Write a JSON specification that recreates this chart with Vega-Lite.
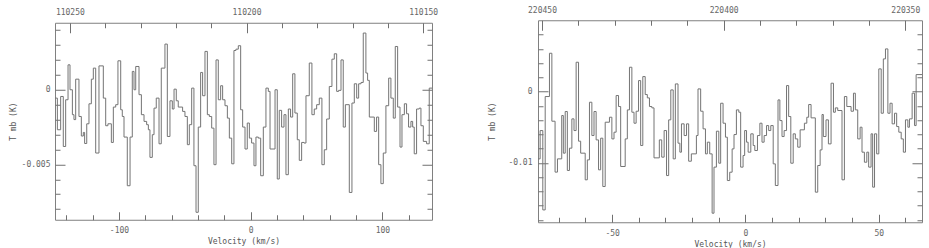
{
  "$schema": "https://vega.github.io/schema/vega-lite/v6.json",
  "padding": {"left": 8, "top": -2, "right": 4, "bottom": 0},
  "spacing": 49,
  "center": true,
  "config": {
    "view": {"stroke": "#808080", "strokeWidth": 1},
    "axis": {"labelFont": "DejaVu Sans Mono", "labelFontSize": 8, "labelColor": "#666666", "titleFont": "DejaVu Sans Mono", "titleFontSize": 8, "titleFontWeight": "normal", "titleColor": "#555555", "domain": false, "grid": false, "tickColor": "#707070", "labelFlush": false, "labelOverlap": false}
  },
  "hconcat": [
    {
      "width": 377, "height": 197,
      "layer": [
        {
          "data": {"values": [
            {"v": -148.6, "T": -0.00056}, {"v": -146.8, "T": -0.00268}, {"v": -144.3, "T": -0.00045}, {"v": -142.3, "T": -0.0038}, {"v": -140.5, "T": -0.00067}, {"v": -138.7, "T": 0.00167}, {"v": -137.2, "T": 0.0}, {"v": -135.4, "T": -0.00167}, {"v": -134.2, "T": -0.002}, {"v": -132.9, "T": 0.00071}, {"v": -130.4, "T": -0.00179}, {"v": -128.6, "T": -0.0031}, {"v": -127.1, "T": -0.00286}, {"v": -126.1, "T": -0.0036}, {"v": -124.5, "T": -0.00228}, {"v": -122.8, "T": -0.00094}, {"v": -121.0, "T": 0.00071}, {"v": -119.5, "T": 0.00145}, {"v": -117.7, "T": -0.00424}, {"v": -115.2, "T": 0.0016}, {"v": -111.9, "T": -0.00056}, {"v": -110.1, "T": -0.00241}, {"v": -108.4, "T": -0.00228}, {"v": -105.8, "T": -0.00353}, {"v": -104.3, "T": -0.00116}, {"v": -102.5, "T": -0.001}, {"v": -100.8, "T": 0.00194}, {"v": -98.7, "T": -0.00134}, {"v": -97.5, "T": -0.00179}, {"v": -96.2, "T": -0.00317}, {"v": -93.7, "T": -0.00643}, {"v": -91.6, "T": -0.00317}, {"v": -89.9, "T": 0.00123}, {"v": -88.6, "T": 0.0}, {"v": -87.3, "T": 0.00156}, {"v": -84.8, "T": -0.00033}, {"v": -83.0, "T": -0.00167}, {"v": -81.0, "T": -0.00212}, {"v": -79.0, "T": -0.00234}, {"v": -77.7, "T": -0.00268}, {"v": -76.5, "T": -0.00453}, {"v": -74.7, "T": -0.00301}, {"v": -73.4, "T": -0.00123}, {"v": -71.7, "T": -0.00056}, {"v": -69.6, "T": -0.00362}, {"v": -67.9, "T": 0.00145}, {"v": -65.1, "T": 0.00306}, {"v": -63.3, "T": -0.00313}, {"v": -61.3, "T": -0.00074}, {"v": -59.5, "T": -0.00129}, {"v": -58.2, "T": 0.00004}, {"v": -56.5, "T": -0.00074}, {"v": -55.0, "T": -0.00116},
            {"v": -51.7, "T": -0.00145}, {"v": -49.9, "T": -0.00179}, {"v": -48.1, "T": -0.00368}, {"v": -46.6, "T": -0.00234}, {"v": -44.8, "T": 0.00011}, {"v": -43.1, "T": -0.00509}, {"v": -41.5, "T": -0.00821}, {"v": -39.8, "T": -0.0025}, {"v": -38.0, "T": 0.00116}, {"v": -36.5, "T": -0.0004}, {"v": -34.7, "T": 0.00257}, {"v": -32.9, "T": -0.00167}, {"v": -31.4, "T": -0.00179}, {"v": -29.6, "T": -0.00257}, {"v": -27.9, "T": -0.00502}, {"v": -26.3, "T": 0.002}, {"v": -24.6, "T": -0.00067}, {"v": -22.8, "T": 0.00027}, {"v": -21.3, "T": -0.00067}, {"v": -19.5, "T": -0.00107}, {"v": -17.7, "T": -0.0019}, {"v": -16.2, "T": -0.00324}, {"v": -14.4, "T": -0.00496}, {"v": -12.7, "T": 0.00263}, {"v": -11.2, "T": 0.00272}, {"v": -9.4, "T": 0.00295}, {"v": -7.6, "T": -0.00134}, {"v": -6.1, "T": -0.0025}, {"v": -4.3, "T": -0.00397}, {"v": -2.6, "T": -0.00223}, {"v": -1.0, "T": -0.00324}, {"v": 0.7, "T": -0.00357}, {"v": 2.5, "T": -0.00509}, {"v": 4.0, "T": -0.00317}, {"v": 5.8, "T": -0.00324}, {"v": 7.6, "T": -0.00576}, {"v": 9.6, "T": -0.0025}, {"v": 11.6, "T": 0.00011}, {"v": 13.4, "T": -0.00011}, {"v": 14.7, "T": -0.00397}, {"v": 18.5, "T": 0.0}, {"v": 20.2, "T": -0.00598}, {"v": 21.7, "T": -0.00138}, {"v": 23.5, "T": -0.0025}, {"v": 25.3, "T": -0.00167}, {"v": 26.8, "T": -0.00569}, {"v": 28.6, "T": -0.00129}, {"v": 30.3, "T": -0.00183}, {"v": 31.9, "T": 0.00107}, {"v": 33.6, "T": -0.00156}, {"v": 35.4, "T": -0.00335}, {"v": 36.9, "T": -0.00473}, {"v": 38.7, "T": -0.00353}, {"v": 40.5, "T": -0.00357}, {"v": 42.0, "T": -0.0004},
            {"v": 44.5, "T": 0.00179}, {"v": 46.5, "T": -0.00167}, {"v": 48.3, "T": -0.00129}, {"v": 50.1, "T": -0.001}, {"v": 52.1, "T": -0.00056}, {"v": 54.1, "T": -0.00502}, {"v": 55.9, "T": -0.00402}, {"v": 57.7, "T": -0.00196}, {"v": 59.7, "T": 0.00022}, {"v": 61.7, "T": 0.00205}, {"v": 63.5, "T": 0.00241}, {"v": 65.3, "T": -0.00011}, {"v": 66.8, "T": -0.00004}, {"v": 68.6, "T": 0.002}, {"v": 70.3, "T": -0.0025}, {"v": 71.9, "T": -0.001}, {"v": 74.9, "T": -0.00688}, {"v": 76.9, "T": -0.00089}, {"v": 78.7, "T": 0.0004}, {"v": 80.5, "T": -0.00056}, {"v": 82.0, "T": 0.0004}, {"v": 83.8, "T": 0.00049}, {"v": 85.5, "T": 0.0038}, {"v": 87.5, "T": 0.00112}, {"v": 88.8, "T": 0.00063}, {"v": 90.1, "T": -0.00183}, {"v": 93.9, "T": -0.00279}, {"v": 95.6, "T": -0.00183}, {"v": 97.2, "T": -0.00502}, {"v": 98.9, "T": -0.00629}, {"v": 100.7, "T": -0.00424}, {"v": 102.7, "T": -0.00107}, {"v": 104.8, "T": 0.00078}, {"v": 106.5, "T": -0.00056}, {"v": 108.3, "T": -0.0019}, {"v": 109.8, "T": 0.0029}, {"v": 111.6, "T": -0.00116}, {"v": 113.4, "T": -0.00384}, {"v": 114.9, "T": -0.00167}, {"v": 116.7, "T": -0.00094}, {"v": 118.4, "T": -0.00161}, {"v": 119.9, "T": -0.0025}, {"v": 121.7, "T": -0.00212}, {"v": 123.0, "T": -0.0025}, {"v": 124.2, "T": -0.00429}, {"v": 126.0, "T": -0.00129}, {"v": 128.0, "T": -0.00123}, {"v": 129.3, "T": -0.00241}, {"v": 131.1, "T": -0.00346}, {"v": 133.6, "T": -0.00362}, {"v": 135.6, "T": 0.00011}, {"v": 137.7, "T": 0.00011}
          ]},
          "mark": {"type": "line", "interpolate": "step-after", "color": "#747474", "strokeWidth": 1, "clip": true},
          "encoding": {
            "x": {"field": "v", "type": "quantitative", "scale": {"domain": [-148.6, 137.7], "nice": false, "zero": false},
              "axis": {"orient": "bottom", "title": "Velocity (km/s)", "values": [-140, -120, -100, -80, -60, -40, -20, 0, 20, 40, 60, 80, 100, 120], "labelExpr": "datum.value == -100 ? '-100' : datum.value == 0 ? '0' : datum.value == 100 ? '100' : ''", "tickSize": {"condition": {"test": "datum.value % 100 == 0", "value": -8}, "value": -5}, "labelPadding": 15, "titlePadding": 0}},
            "y": {"field": "T", "type": "quantitative", "scale": {"domain": [-0.00871, 0.00449], "nice": false, "zero": false},
              "axis": {"orient": "left", "title": "T mb (K)", "values": [0.004, 0.003, 0.002, 0.001, 0, -0.001, -0.002, -0.003, -0.004, -0.005, -0.006, -0.007, -0.008], "labelExpr": "datum.value == 0 ? '0' : datum.value == -0.005 ? '-0.005' : ''", "tickSize": {"condition": {"test": "datum.value == 0 || datum.value == -0.005", "value": -10}, "value": -5}, "labelPadding": 15, "titlePadding": 4}}
          }
        },
        {
          "data": {"values": [{"f": 110200, "T": 0}]},
          "mark": {"type": "point", "opacity": 0},
          "encoding": {
            "x": {"field": "f", "type": "quantitative", "scale": {"domain": [110147.5, 110254.2], "reverse": true, "nice": false, "zero": false},
              "axis": {"orient": "top", "title": " ", "titleFontSize": 5, "titlePadding": 0, "values": [110150, 110160, 110170, 110180, 110190, 110200, 110210, 110220, 110230, 110240, 110250], "labelExpr": "datum.value % 50 == 0 ? format(datum.value, 'd') : ''", "tickSize": {"condition": {"test": "datum.value % 50 == 0", "value": -10}, "value": -5}, "labelPadding": 16}},
            "y": {"field": "T", "type": "quantitative", "scale": {"domain": [-0.00871, 0.00449], "nice": false, "zero": false},
              "axis": {"orient": "right", "title": null, "labels": false, "values": [0.004, 0.003, 0.002, 0.001, 0, -0.001, -0.002, -0.003, -0.004, -0.005, -0.006, -0.007, -0.008], "tickSize": {"condition": {"test": "datum.value == 0 || datum.value == -0.005", "value": -10}, "value": -5}}}
          }
        }
      ],
      "resolve": {"scale": {"x": "independent", "y": "independent"}, "axis": {"x": "independent", "y": "independent"}}
    },
    {
      "width": 384, "height": 202,
      "layer": [
        {
          "data": {"values": [
            {"v": -77.8, "T": -0.00944}, {"v": -77.0, "T": -0.00547}, {"v": -76.0, "T": -0.0166}, {"v": -75.1, "T": -0.0007}, {"v": -73.5, "T": 0.00537}, {"v": -72.6, "T": -0.00416}, {"v": -71.4, "T": -0.0113}, {"v": -70.5, "T": -0.00944}, {"v": -68.9, "T": -0.00336}, {"v": -68.3, "T": -0.00864}, {"v": -67.6, "T": -0.0028}, {"v": -66.8, "T": -0.01107}, {"v": -66.0, "T": -0.00794}, {"v": -65.1, "T": -0.00383}, {"v": -64.3, "T": -0.00547}, {"v": -63.5, "T": 0.00411}, {"v": -62.6, "T": -0.00696}, {"v": -61.8, "T": -0.00864}, {"v": -60.1, "T": -0.01238}, {"v": -59.3, "T": -0.00958}, {"v": -58.5, "T": -0.0015}, {"v": -57.6, "T": -0.00617}, {"v": -56.8, "T": -0.0028}, {"v": -56.0, "T": -0.00678}, {"v": -55.1, "T": -0.01098}, {"v": -54.3, "T": -0.00654}, {"v": -53.5, "T": -0.01332}, {"v": -52.6, "T": -0.0043}, {"v": -51.0, "T": -0.0036}, {"v": -50.1, "T": -0.00664}, {"v": -49.3, "T": -0.0057}, {"v": -48.5, "T": -0.00056}, {"v": -47.6, "T": -0.0021}, {"v": -46.8, "T": -0.01051}, {"v": -45.1, "T": -0.00664}, {"v": -44.3, "T": -0.00257}, {"v": -43.5, "T": 0.00341}, {"v": -42.6, "T": -0.0029}, {"v": -41.8, "T": -0.00444}, {"v": -41.0, "T": -0.00276}, {"v": -40.1, "T": 0.00154}, {"v": -39.3, "T": -0.00757}, {"v": -38.5, "T": 0.0021}, {"v": -37.6, "T": -0.00042}, {"v": -36.8, "T": -0.00089}, {"v": -36.0, "T": -0.0021}, {"v": -35.1, "T": -0.00229}, {"v": -34.3, "T": -0.0093}, {"v": -32.3, "T": -0.00678}, {"v": -31.4, "T": -0.0092}, {"v": -30.5, "T": -0.00547},
            {"v": -29.6, "T": -0.01178}, {"v": -28.8, "T": -0.00397}, {"v": -28.0, "T": 0.00023}, {"v": -27.1, "T": -0.00944}, {"v": -26.3, "T": 0.00107}, {"v": -25.3, "T": -0.00724}, {"v": -24.6, "T": -0.0085}, {"v": -24.0, "T": -0.00453}, {"v": -23.0, "T": -0.00617}, {"v": -22.1, "T": -0.00453}, {"v": -21.3, "T": -0.00977}, {"v": -20.3, "T": -0.00874}, {"v": -18.4, "T": -0.00617}, {"v": -17.8, "T": 0.00037}, {"v": -16.8, "T": -0.00276}, {"v": -15.9, "T": -0.00523}, {"v": -15.0, "T": -0.00874}, {"v": -14.3, "T": -0.0071}, {"v": -13.4, "T": -0.00874}, {"v": -12.5, "T": -0.01706}, {"v": -11.8, "T": -0.0106}, {"v": -10.9, "T": -0.00556}, {"v": -10.0, "T": -0.01005}, {"v": -9.3, "T": -0.00164}, {"v": -8.4, "T": -0.00444}, {"v": -7.5, "T": -0.0064}, {"v": -6.8, "T": -0.01248}, {"v": -5.9, "T": -0.01131}, {"v": -5.0, "T": -0.00804}, {"v": -4.3, "T": -0.00603}, {"v": -3.4, "T": -0.00257}, {"v": -2.5, "T": -0.0029}, {"v": -1.8, "T": -0.0106}, {"v": -0.9, "T": -0.00897}, {"v": -0.3, "T": -0.00547}, {"v": 0.4, "T": -0.0071}, {"v": 1.0, "T": -0.0085}, {"v": 2.0, "T": -0.00593}, {"v": 2.9, "T": -0.00757}, {"v": 3.5, "T": -0.00827}, {"v": 4.5, "T": -0.00617}, {"v": 5.4, "T": -0.00444}, {"v": 6.2, "T": -0.0071}, {"v": 7.0, "T": -0.00617}, {"v": 7.9, "T": -0.00477}, {"v": 8.7, "T": -0.00547}, {"v": 9.5, "T": -0.00477}, {"v": 10.4, "T": -0.01014}, {"v": 11.2, "T": -0.01318}, {"v": 12.2, "T": -0.00117}, {"v": 12.9, "T": -0.00407}, {"v": 13.7, "T": -0.00631}, {"v": 14.5, "T": -0.00547}, {"v": 15.4, "T": 0.00084}, {"v": 16.2, "T": -0.0035}, {"v": 17.0, "T": -0.01005}, {"v": 17.9, "T": -0.00593},
            {"v": 18.7, "T": -0.00664}, {"v": 19.6, "T": -0.0078}, {"v": 20.5, "T": -0.00537}, {"v": 22.1, "T": -0.00444}, {"v": 23.0, "T": -0.0036}, {"v": 23.7, "T": -0.00182}, {"v": 24.6, "T": -0.00369}, {"v": 26.2, "T": -0.01411}, {"v": 27.1, "T": -0.01037}, {"v": 28.0, "T": -0.00818}, {"v": 28.7, "T": -0.00322}, {"v": 29.2, "T": -0.00631}, {"v": 30.2, "T": -0.00397}, {"v": 31.1, "T": -0.00734}, {"v": 32.1, "T": 0.00117}, {"v": 33.0, "T": -0.0029}, {"v": 33.7, "T": -0.00229}, {"v": 34.6, "T": -0.00266}, {"v": 36.2, "T": -0.01238}, {"v": 37.1, "T": -0.0007}, {"v": 38.0, "T": -0.0021}, {"v": 39.6, "T": -0.00276}, {"v": 40.5, "T": -0.00023}, {"v": 41.2, "T": -0.00257}, {"v": 42.1, "T": -0.00664}, {"v": 43.0, "T": -0.005}, {"v": 43.7, "T": -0.0085}, {"v": 44.6, "T": -0.00991}, {"v": 45.5, "T": -0.0085}, {"v": 46.2, "T": -0.0106}, {"v": 47.1, "T": -0.00593}, {"v": 47.7, "T": -0.01341}, {"v": 48.4, "T": -0.00593}, {"v": 49.2, "T": -0.00874}, {"v": 50.0, "T": 0.00318}, {"v": 50.9, "T": -0.00304}, {"v": 51.7, "T": 0.00458}, {"v": 52.5, "T": 0.00598}, {"v": 53.4, "T": -0.00304}, {"v": 54.2, "T": -0.00164}, {"v": 55.0, "T": -0.00453}, {"v": 55.9, "T": -0.00304}, {"v": 56.7, "T": -0.00491}, {"v": 57.5, "T": -0.0057}, {"v": 58.4, "T": -0.00664}, {"v": 59.2, "T": -0.0085}, {"v": 60.0, "T": -0.00397}, {"v": 60.9, "T": -0.005}, {"v": 61.5, "T": -0.00383}, {"v": 62.5, "T": -0.00023}, {"v": 63.4, "T": -0.00477}, {"v": 64.0, "T": 0.00238}, {"v": 66.2, "T": 0.00238}
          ]},
          "mark": {"type": "line", "interpolate": "step-after", "color": "#747474", "strokeWidth": 1, "clip": true},
          "encoding": {
            "x": {"field": "v", "type": "quantitative", "scale": {"domain": [-77.8, 66.2], "nice": false, "zero": false},
              "axis": {"orient": "bottom", "title": "Velocity (km/s)", "values": [-70, -60, -50, -40, -30, -20, -10, 0, 10, 20, 30, 40, 50, 60], "labelExpr": "datum.value == -50 ? '-50' : datum.value == 0 ? '0' : datum.value == 50 ? '50' : ''", "tickSize": {"condition": {"test": "datum.value % 50 == 0", "value": -8}, "value": -5}, "labelPadding": 15, "titlePadding": 0}},
            "y": {"field": "T", "type": "quantitative", "scale": {"domain": [-0.01833, 0.01], "nice": false, "zero": false},
              "axis": {"orient": "left", "title": "T mb (K)", "values": [0.008, 0.006, 0.004, 0.002, 0, -0.002, -0.004, -0.006, -0.008, -0.01, -0.012, -0.014, -0.016, -0.018], "labelExpr": "datum.value == 0 ? '0' : datum.value == -0.01 ? '-0.01' : ''", "tickSize": {"condition": {"test": "datum.value == 0 || datum.value == -0.01", "value": -10}, "value": -5}, "labelPadding": 16, "titlePadding": 11}}
          }
        },
        {
          "data": {"values": [{"f": 220400, "T": 0}]},
          "mark": {"type": "point", "opacity": 0},
          "encoding": {
            "x": {"field": "f", "type": "quantitative", "scale": {"domain": [220345.4, 220451.1], "reverse": true, "nice": false, "zero": false},
              "axis": {"orient": "top", "title": null, "values": [220350, 220360, 220370, 220380, 220390, 220400, 220410, 220420, 220430, 220440, 220450], "labelExpr": "datum.value % 50 == 0 ? format(datum.value, 'd') : ''", "tickSize": {"condition": {"test": "datum.value % 50 == 0", "value": -10}, "value": -5}, "labelPadding": 16}},
            "y": {"field": "T", "type": "quantitative", "scale": {"domain": [-0.01833, 0.01], "nice": false, "zero": false},
              "axis": {"orient": "right", "title": null, "labels": false, "values": [0.008, 0.006, 0.004, 0.002, 0, -0.002, -0.004, -0.006, -0.008, -0.01, -0.012, -0.014, -0.016, -0.018], "tickSize": {"condition": {"test": "datum.value == 0 || datum.value == -0.01", "value": -10}, "value": -5}}}
          }
        }
      ],
      "resolve": {"scale": {"x": "independent", "y": "independent"}, "axis": {"x": "independent", "y": "independent"}}
    }
  ]
}
